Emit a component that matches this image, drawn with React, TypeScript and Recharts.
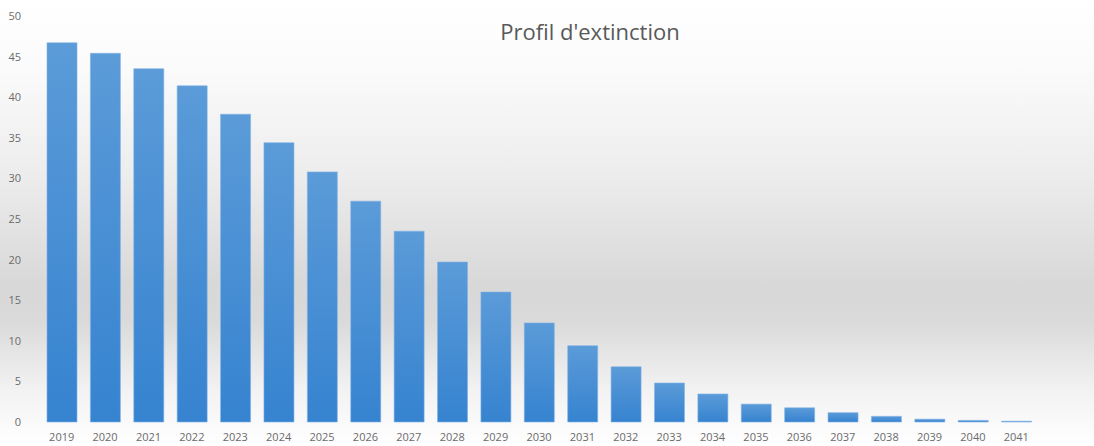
import { BarChart, Bar, XAxis, YAxis } from "recharts";

const years = [
  "2019", "2020", "2021", "2022", "2023", "2024", "2025", "2026",
  "2027", "2028", "2029", "2030", "2031", "2032", "2033", "2034",
  "2035", "2036", "2037", "2038", "2039", "2040", "2041",
];

const encours = [
  46.7, 45.4, 43.5, 41.4, 37.9, 34.4, 30.8, 27.2,
  23.5, 19.7, 16.0, 12.2, 9.4, 6.8, 4.8, 3.45,
  2.2, 1.75, 1.15, 0.7, 0.35, 0.2, 0.1,
];

const yTicks = [0, 5, 10, 15, 20, 25, 30, 35, 40, 45, 50];

const title = "Profil d'extinction";

const chartData = years.map((year, i) => ({ year, value: encours[i] }));

const font = "'Open Sans', 'Liberation Sans', sans-serif";

export default function App() {
  return (
    <div
      style={{
        position: "absolute",
        left: 0,
        top: 0,
        width: 1094,
        height: 446,
        fontFamily: font,
        background:
          "linear-gradient(to bottom, #ffffff 0%, #fbfbfb 15%, #ececec 40%, #d8d8d8 64%, #dadada 72%, #f3f3f3 88%, #ffffff 100%)",
      }}
    >
      <div
        style={{
          position: "absolute",
          top: 16,
          left: 0,
          width: 1180,
          textAlign: "center",
          fontSize: 22,
          color: "#595959",
        }}
      >
        {title}
      </div>
      <BarChart
        width={1094}
        height={446}
        data={chartData}
        margin={{ top: 16, right: 56, bottom: 0, left: 0 }}
        barSize={30}
      >
        <defs>
          <linearGradient id="barGrad" x1="0" y1="0" x2="0" y2="1">
            <stop offset="0%" stopColor="#5b9bd8" />
            <stop offset="100%" stopColor="#3683d0" />
          </linearGradient>
        </defs>
        <XAxis
          dataKey="year"
          height={24}
          axisLine={false}
          tickLine={false}
          tickSize={0}
          tickMargin={11}
          interval={0}
          tick={{ fontSize: 11, fill: "#6b6b6b", fontFamily: font }}
        />
        <YAxis
          width={40}
          domain={[0, 50]}
          ticks={yTicks}
          axisLine={false}
          tickLine={false}
          tickSize={0}
          tickMargin={19}
          tick={{ fontSize: 11, fill: "#6b6b6b", fontFamily: font }}
        />
        <Bar
          dataKey="value"
          fill="url(#barGrad)"
          stroke="#7fb2e5"
          strokeWidth={0.6}
          isAnimationActive={false}
        />
      </BarChart>
    </div>
  );
}
